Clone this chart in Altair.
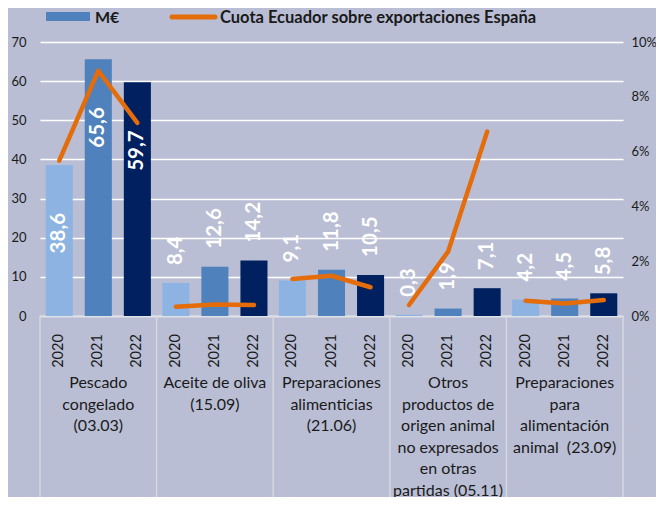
import altair as alt
import pandas as pd

# ---- data ----
categorias = [
    "Pescado\ncongelado\n(03.03)",
    "Aceite de oliva\n(15.09)",
    "Preparaciones\nalimenticias\n(21.06)",
    "Otros\nproductos de\norigen animal\nno expresados\nen otras\npartidas (05.11)",
    "Preparaciones\npara\nalimentación\nanimal\u00a0\u00a0(23.09)",
]
anios = ["2020", "2021", "2022"]
meur_2020 = [38.6, 8.4, 9.1, 0.3, 4.2]
meur_2021 = [65.6, 12.6, 11.8, 1.9, 4.5]
meur_2022 = [59.7, 14.2, 10.5, 7.1, 5.8]
cuota_2020 = [5.67, 0.34, 1.35, 0.40, 0.56]   # %
cuota_2021 = [8.95, 0.42, 1.47, 2.35, 0.46]
cuota_2022 = [7.05, 0.40, 1.05, 6.73, 0.58]

colores = ["#8db3e2", "#4f81bd", "#002060"]
naranja = "#e46c0a"
fondo = "#b9bed4"
FONT = "Lato"

W, H = 583, 274

meur = [meur_2020, meur_2021, meur_2022]
cuota = [cuota_2020, cuota_2021, cuota_2022]
rows = []
for i, c in enumerate(categorias):
    for j, a in enumerate(anios):
        v = meur[j][i]
        xc = i + 0.5 + (j - 1) * 0.335
        rows.append({
            "cat": c, "anio": a, "meur": v, "cuota": cuota[j][i] / 100,
            "xc": xc, "x0": xc - 0.116, "x1": xc + 0.116,
            "lab": f"{v:.1f}".replace(".", ","),
        })
df = pd.DataFrame(rows)
cats_df = pd.DataFrame({"cat": categorias, "xm": [i + 0.5 for i in range(len(categorias))]})
sep_df = pd.DataFrame({"xb": list(range(len(categorias) + 1))})
one = pd.DataFrame({"k": [0]})

xscale = alt.Scale(domain=[0, len(categorias)], nice=False, zero=False)
yscale = alt.Scale(domain=[0, 70], nice=False, zero=True)
yaxis = alt.Axis(values=list(range(0, 80, 10)), grid=True, gridColor="white",
                 gridWidth=1.6, domain=False, ticks=False, labelPadding=14,
                 labelFontSize=13, labelColor="#1a1a1a", labelFont=FONT, title=None,
                 labelOverlap=False)

bars = alt.Chart(df).mark_bar().encode(
    x=alt.X("x0:Q", scale=xscale, axis=None),
    x2="x1:Q",
    y=alt.Y("meur:Q", scale=yscale, axis=yaxis),
    y2=alt.datum(0),
    color=alt.Color("anio:N", scale=alt.Scale(domain=anios, range=colores), legend=None),
)

lab_small = alt.Chart(df).transform_filter("datum.meur <= 30").mark_text(
    angle=270, align="left", baseline="middle", dx=18, fontSize=20.5,
    fontWeight="bold", color="white", font=FONT,
).encode(x=alt.X("xc:Q", scale=xscale, axis=None),
         y=alt.Y("meur:Q", scale=yscale, axis=yaxis), text="lab:N")

lab_big = alt.Chart(df).transform_filter("datum.meur > 30").mark_text(
    angle=270, align="right", baseline="middle", dx=-48, fontSize=20.5,
    fontWeight="bold", color="white", font=FONT,
).encode(x=alt.X("xc:Q", scale=xscale, axis=None),
         y=alt.Y("meur:Q", scale=yscale, axis=yaxis), text="lab:N")

left = alt.layer(bars, lab_small, lab_big)

line = alt.Chart(df).mark_line(color=naranja, strokeWidth=4.5, strokeCap="round",
                               strokeJoin="round").encode(
    x=alt.X("xc:Q", scale=xscale, axis=None),
    y=alt.Y("cuota:Q", scale=alt.Scale(domain=[0, 0.10], nice=False),
            axis=alt.Axis(orient="right", values=[0, 0.02, 0.04, 0.06, 0.08, 0.10],
                          format=".0%", grid=False, domain=False, ticks=False,
                          labelPadding=8, labelFontSize=13, labelColor="#1a1a1a",
                          labelFont=FONT, title=None)),
    detail="cat:N",
)

base_rule = alt.Chart(one).mark_rule(color="#d6d8de", strokeWidth=1.5).encode(
    x=alt.value(0), x2=alt.value(W), y=alt.value(H))

seps = alt.Chart(sep_df).mark_rule(color="#d6d8de", strokeWidth=1.5).encode(
    x=alt.X("xb:Q", scale=xscale, axis=None), y=alt.value(H), y2=alt.value(H + 190))

years = alt.Chart(df).mark_text(angle=270, align="center", baseline="middle",
                                fontSize=14.5, color="#1a1a1a", font=FONT).encode(
    x=alt.X("xc:Q", scale=xscale, axis=None), y=alt.value(H + 35), text="anio:N")

cat_labels = alt.Chart(cats_df).mark_text(align="center", baseline="top", fontSize=16,
                                          lineHeight=21.5, lineBreak="\n",
                                          color="#1a1a1a", font=FONT).encode(
    x=alt.X("xm:Q", scale=xscale, axis=None), y=alt.value(H + 59), text="cat:N")

leg_rect = alt.Chart(one).mark_rect(color=colores[1]).encode(
    x=alt.value(6), x2=alt.value(50), y=alt.value(-30), y2=alt.value(-21))
leg_t1 = alt.Chart(one).mark_text(align="left", baseline="middle", fontSize=16,
                                  fontWeight="bold", color="#1a1a1a", font=FONT).encode(
    x=alt.value(55), y=alt.value(-24), text=alt.value("M€"))
leg_line = alt.Chart(one).mark_rule(color=naranja, strokeWidth=5, strokeCap="round").encode(
    x=alt.value(132), x2=alt.value(175), y=alt.value(-25))
leg_t2 = alt.Chart(one).mark_text(align="left", baseline="middle", fontSize=16.5,
                                  fontWeight="bold", color="#1a1a1a", font=FONT).encode(
    x=alt.value(180), y=alt.value(-24),
    text=alt.value("Cuota Ecuador sobre exportaciones España"))

chart = alt.layer(
    seps, base_rule, left, line, years, cat_labels, leg_rect, leg_t1, leg_line, leg_t2
).resolve_scale(y="independent").properties(
    width=W, height=H,
    autosize=alt.AutoSizeParams(type="none"),
    padding={"left": 32, "top": 34, "right": 33, "bottom": 181},
    background=fondo,
).configure_view(stroke=None)

chart.save("out.html", embed_options={"renderer": "svg", "actions": False})
